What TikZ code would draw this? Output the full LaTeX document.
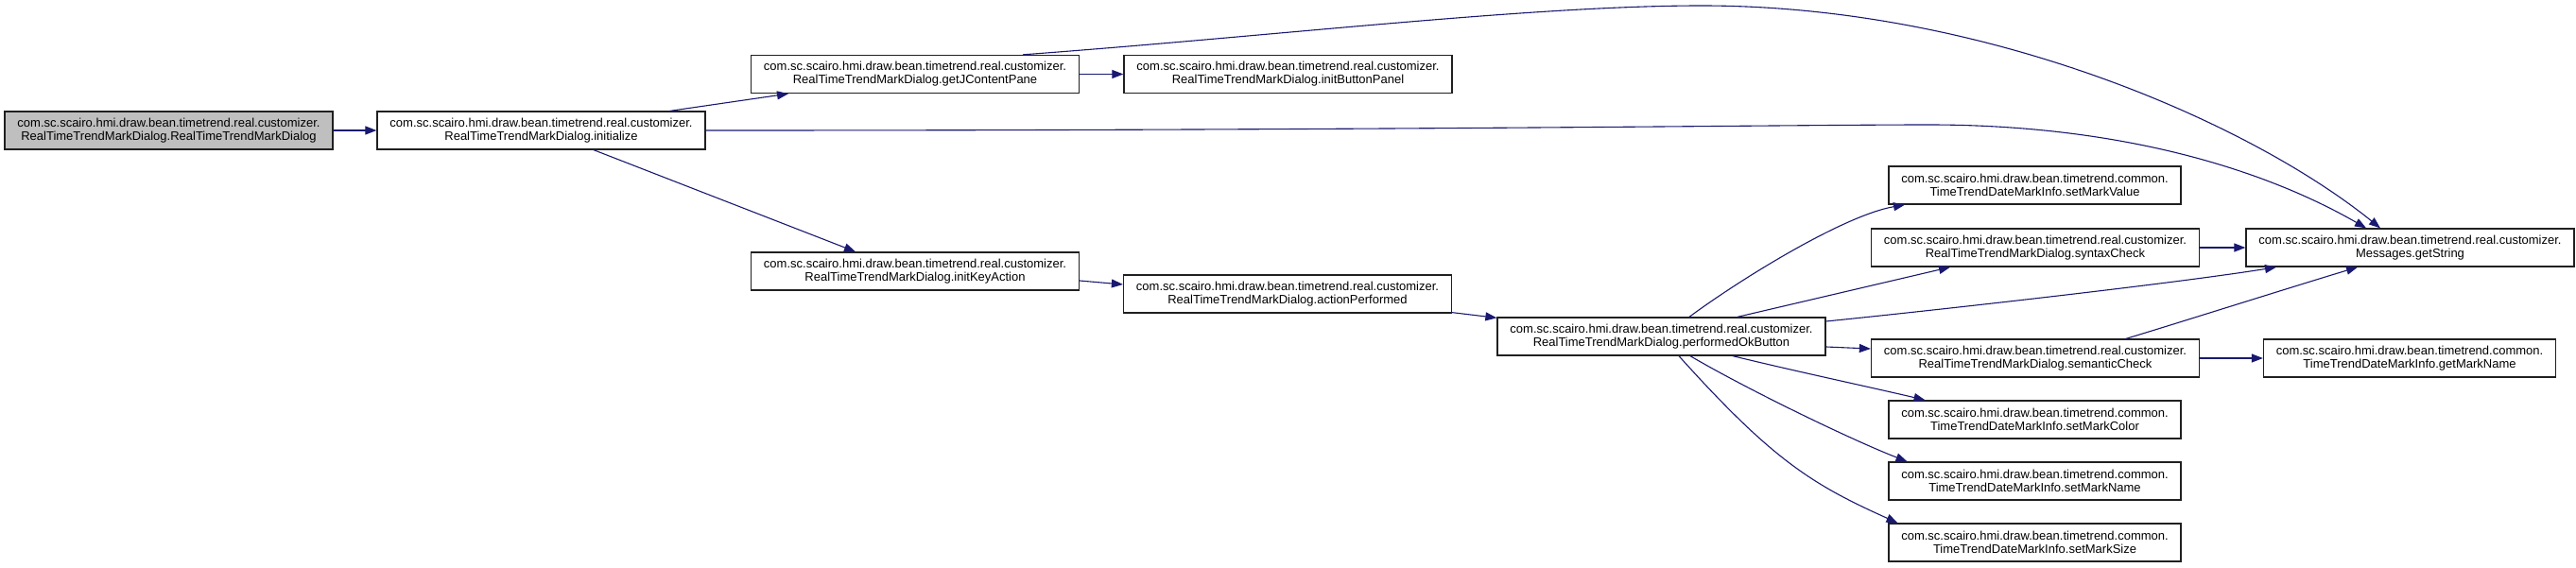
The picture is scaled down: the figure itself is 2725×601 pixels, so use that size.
\documentclass[tikz,border=0pt]{standalone}
\usepackage{fontspec}
\setmainfont{Liberation Sans}
\usetikzlibrary{arrows.meta}
\definecolor{edgeblue}{HTML}{191970}
\definecolor{rootgray}{HTML}{BFBFBF}
\definecolor{boxline}{HTML}{202020}
\tikzset{
  fn/.style={draw=boxline, line width=1.3pt, rectangle, inner sep=0pt, minimum height=40pt,
    align=center, fill=white, font=\fontsize{13}{14}\selectfont},
  wide/.style={minimum width=347pt},
  narrow/.style={minimum width=309pt},
  rootbox/.style={fill=rootgray},
  call/.style={draw=edgeblue, line width=1.1pt, -{Triangle[length=12pt,width=9pt]}, fill=none}
}
\begin{document}
\begin{tikzpicture}[x=1pt,y=-1pt]
\useasboundingbox (0,0) rectangle (2725,601);
% nodes
\node[fn,wide,rootbox] (root) at (178.5,138) {com.sc.scairo.hmi.draw.bean.timetrend.real.customizer.\\RealTimeTrendMarkDialog.RealTimeTrendMarkDialog};
\node[fn,wide] (init) at (572.5,138) {com.sc.scairo.hmi.draw.bean.timetrend.real.customizer.\\RealTimeTrendMarkDialog.initialize};
\node[fn,wide] (getj) at (968,78.5) {com.sc.scairo.hmi.draw.bean.timetrend.real.customizer.\\RealTimeTrendMarkDialog.getJContentPane};
\node[fn,wide] (ibp) at (1362.5,78.5) {com.sc.scairo.hmi.draw.bean.timetrend.real.customizer.\\RealTimeTrendMarkDialog.initButtonPanel};
\node[fn,wide] (ika) at (968,287) {com.sc.scairo.hmi.draw.bean.timetrend.real.customizer.\\RealTimeTrendMarkDialog.initKeyAction};
\node[fn,wide] (ap) at (1362,311) {com.sc.scairo.hmi.draw.bean.timetrend.real.customizer.\\RealTimeTrendMarkDialog.actionPerformed};
\node[fn,wide] (pok) at (1757.5,356) {com.sc.scairo.hmi.draw.bean.timetrend.real.customizer.\\RealTimeTrendMarkDialog.performedOkButton};
\node[fn,narrow] (smv) at (2152.5,196) {com.sc.scairo.hmi.draw.bean.timetrend.common.\\TimeTrendDateMarkInfo.setMarkValue};
\node[fn,wide] (syn) at (2153,262) {com.sc.scairo.hmi.draw.bean.timetrend.real.customizer.\\RealTimeTrendMarkDialog.syntaxCheck};
\node[fn,wide] (gs) at (2549.5,262) {com.sc.scairo.hmi.draw.bean.timetrend.real.customizer.\\Messages.getString};
\node[fn,wide] (sem) at (2153,379) {com.sc.scairo.hmi.draw.bean.timetrend.real.customizer.\\RealTimeTrendMarkDialog.semanticCheck};
\node[fn,narrow] (gmn) at (2549,379) {com.sc.scairo.hmi.draw.bean.timetrend.common.\\TimeTrendDateMarkInfo.getMarkName};
\node[fn,narrow] (smc) at (2152.5,444) {com.sc.scairo.hmi.draw.bean.timetrend.common.\\TimeTrendDateMarkInfo.setMarkColor};
\node[fn,narrow] (smn) at (2152.5,509) {com.sc.scairo.hmi.draw.bean.timetrend.common.\\TimeTrendDateMarkInfo.setMarkName};
\node[fn,narrow] (sms) at (2152.5,574) {com.sc.scairo.hmi.draw.bean.timetrend.common.\\TimeTrendDateMarkInfo.setMarkSize};
% edges
\draw[call] (root.east) -- (init.west);
\draw[call] ([xshift=136.5pt]init.north) -- ([xshift=-134pt]getj.south);
\draw[call] (init.east) .. controls (1500,138) and (1900,132) .. (2040,132)
  .. controls (2250,132) and (2400,182) .. ([xshift=-46.5pt]gs.north);
\draw[call] (getj.east) -- (ibp.west);
\draw[call] ([xshift=114pt]getj.north) .. controls (1350,38) and (1620,6) .. (1800,6)
  .. controls (2100,6) and (2380,130) .. ([xshift=-31.5pt]gs.north);
\draw[call] ([xshift=55.5pt]init.south) -- ([xshift=-63pt]ika.north);
\draw[call] ([yshift=-10pt]ika.east) -- ([yshift=10pt]ap.west);
\draw[call] ([yshift=1pt]ap.south east) -- ([yshift=-1pt]pok.north west);
\draw[call] ([xshift=29.5pt]pok.north) .. controls (1840,296) and (1950,228) .. ([xshift=-137.5pt]smv.south);
\draw[call] ([xshift=80.5pt]pok.north) -- ([xshift=-90pt]syn.south);
\draw[call] ([yshift=16pt]pok.east) .. controls (2050,328) and (2300,300) .. ([xshift=-141.5pt]gs.south);
\draw[call] ([yshift=-11pt]pok.east) -- ([yshift=10pt]sem.west);
\draw[call] ([xshift=96pt]sem.north) .. controls (2300,343) and (2420,305) .. ([xshift=-55.5pt]gs.south);
\draw[call] (sem.east) -- (gmn.west);
\draw[call] (syn.east) -- (gs.west);
\draw[call] ([xshift=75.5pt]pok.south) .. controls (1900,393) and (1980,410) .. ([xshift=-116pt]smc.north);
\draw[call] ([xshift=30.5pt]pok.south) .. controls (1850,413) and (1960,466) .. ([xshift=-135pt]smn.north);
\draw[call] ([xshift=18.5pt]pok.south) .. controls (1876,488) and (1918,513) .. ([xshift=-145pt]sms.north);
\end{tikzpicture}
\end{document}
